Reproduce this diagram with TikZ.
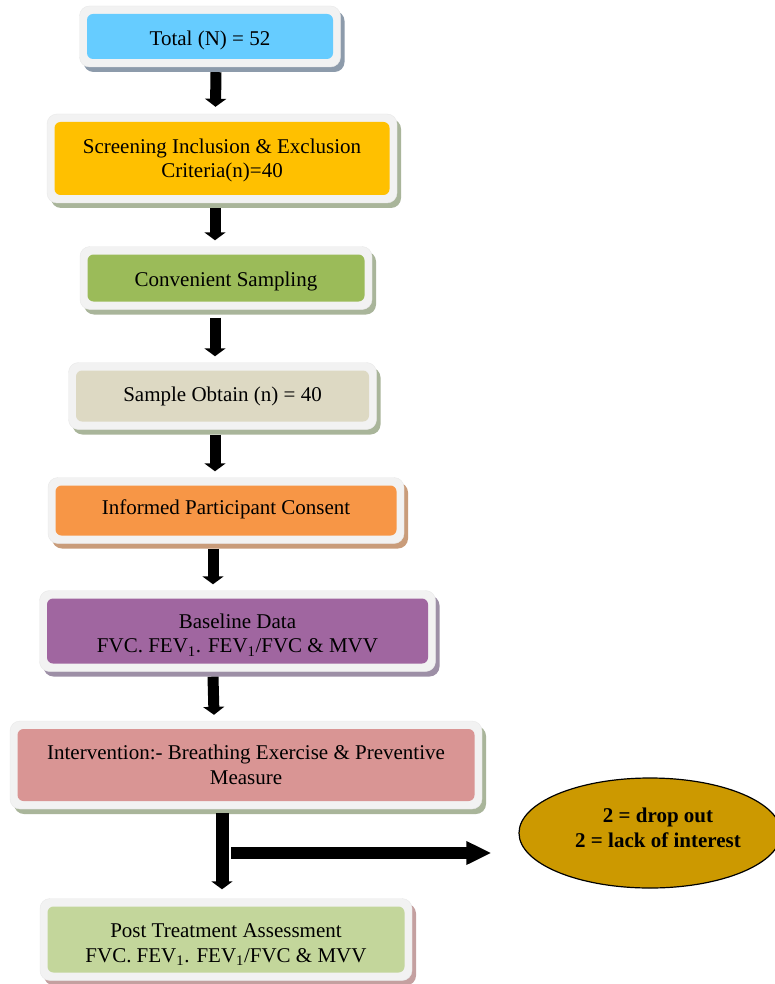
\documentclass[tikz,border=0pt]{standalone}
\usepackage{fontspec}
\setmainfont{Liberation Serif}
\usetikzlibrary{arrows.meta,shapes.geometric,calc}
\definecolor{frameC}{HTML}{F2F2F2}
\definecolor{cBlue}{HTML}{66CCFF}
\definecolor{cGold}{HTML}{FFC000}
\definecolor{cGreen}{HTML}{9BBB59}
\definecolor{cBeige}{HTML}{DDD9C3}
\definecolor{cOrange}{HTML}{F79646}
\definecolor{cPurple}{HTML}{A066A0}
\definecolor{cRose}{HTML}{D99594}
\definecolor{cLime}{HTML}{C3D69B}
\definecolor{cOchre}{HTML}{CC9900}
\definecolor{sBlue}{HTML}{8D9BAB}
\definecolor{sGreen}{HTML}{A9B59A}
\definecolor{sTan}{HTML}{C99C7A}
\definecolor{sPurple}{HTML}{9D8FA6}
\definecolor{sPink}{HTML}{C4A0A0}
\tikzset{
  txt/.style={font=\fontsize{21}{24.5}\selectfont, align=center, text=black, inner sep=0pt},
  outerbox/.style={rectangle, rounded corners=10pt, fill=frameC, draw=frameC!92!gray, line width=0.4pt},
  innerbox/.style={rectangle, rounded corners=6pt, draw=none},
  blk/.style={draw=black, line width=11pt, -{Triangle[width=21pt,length=8pt]}},
  blkh/.style={draw=black, line width=12pt, -{Triangle[width=22pt,length=25pt]}},
}
% #1 name, #2 cx, #3 cy, #4 w, #5 h, #6 fill, #7 shadow, #8 text, #9 text y offset
\newcommand{\flowbox}[9]{%
  \fill[#7, rounded corners=10pt] (#2-#4/2+4, #3-#5/2+5) rectangle (#2+#4/2+4, #3+#5/2+5);
  \node[outerbox, minimum width=#4pt, minimum height=#5pt] (o#1) at (#2,#3) {};
  \node[innerbox, fill=#6, minimum width=#4pt-15pt, minimum height=#5pt-16pt] (#1) at (#2,#3) {};
  \node[txt] (t#1) at (#2,#3+#9) {#8};
}
\begin{document}
\begin{tikzpicture}[x=1pt,y=-1pt]
\useasboundingbox (0,0) rectangle (775,984);
\fill[white] (0,0) rectangle (775,984);

\flowbox{b1}{210}{36.5}{261}{61}{cBlue}{sBlue}{Total (N) = 52}{4}
\flowbox{b2}{222}{158.5}{350}{89}{cGold}{sGreen}{Screening Inclusion \& Exclusion\\Criteria(n)=40}{2}
\flowbox{b3}{226}{278}{292}{63}{cGreen}{sGreen}{Convenient Sampling}{3}
\flowbox{b4}{222.5}{396}{308}{67}{cBeige}{sGreen}{Sample Obtain (n) = 40}{0}
\flowbox{b5}{226}{510.5}{356}{66}{cOrange}{sTan}{Informed Participant Consent}{-1}
\flowbox{b6}{237.5}{631}{396}{81}{cPurple}{sPurple}{Baseline Data\\FVC. FEV\textsubscript{1}. FEV\textsubscript{1}/FVC \& MVV}{4}
\flowbox{b7}{246}{765}{472}{88}{cRose}{sGreen}{Intervention:- Breathing Exercise \& Preventive\\Measure}{0}
\flowbox{b8}{226}{939.5}{372}{82}{cLime}{sPink}{Post Treatment Assessment\\FVC. FEV\textsubscript{1}. FEV\textsubscript{1}/FVC \& MVV}{5}

\node[ellipse, draw=black, line width=1.2pt, fill=cOchre, minimum width=262pt, minimum height=110pt, inner sep=0pt] (e) at (650,833) {};
\node[font=\fontsize{21}{25}\selectfont\bfseries, align=center, inner sep=0pt] (et) at (658,828)
      {2 = drop out\\2 = lack of interest};

% vertical connectors
\draw[blk] ([xshift=6pt,yshift=-5pt]ob1.south) -- ([xshift=-6.5pt,yshift=7pt]ob2.north);
\draw[blk] ([xshift=-7pt,yshift=-5pt]ob2.south) -- ([xshift=-11pt,yshift=6pt]ob3.north);
\draw[blk] ([xshift=-11pt,yshift=-8pt]ob3.south) -- ([xshift=-7.5pt,yshift=6pt]ob4.north);
\draw[blk] ([xshift=-7.5pt,yshift=-5pt]ob4.south) -- ([xshift=-11pt,yshift=6pt]ob5.north);
\draw[blk] ([xshift=-13pt,yshift=-5pt]ob5.south) -- ([xshift=-24.5pt,yshift=6pt]ob6.north);
\draw[blk] ([xshift=-24.5pt,yshift=-5pt]ob6.south) -- ([xshift=-32pt,yshift=6pt]ob7.north);
\draw[blk, line width=13pt] ([xshift=-24pt,yshift=-4pt]ob7.south) -- ([xshift=-4pt,yshift=9pt]ob8.north);
% side connector
\coordinate (j) at (231,853);
\draw[blkh] (j) -- ([xshift=-27pt]e.west |- j);
\end{tikzpicture}
\end{document}
